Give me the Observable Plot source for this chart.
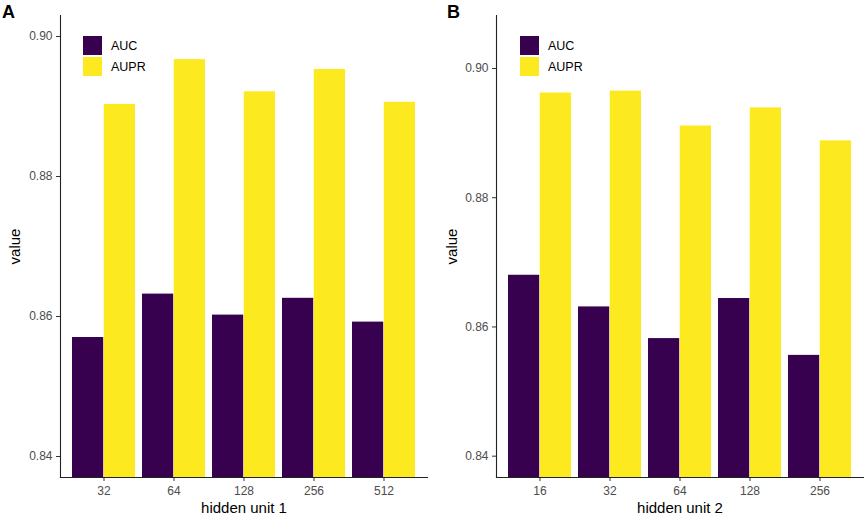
<!DOCTYPE html>
<html>
<head>
<meta charset="utf-8">
<script src="https://cdn.jsdelivr.net/npm/d3@7"></script>
<script src="https://cdn.jsdelivr.net/npm/@observablehq/plot@0.6"></script>
<style>
  html, body { margin: 0; padding: 0; background: #fff; }
  #wrap { position: relative; width: 865px; height: 516px; font-family: "Liberation Sans", Arial, sans-serif; }
  .panel { position: absolute; top: 0; }
  .tag { position: absolute; font-weight: bold; font-size: 18px; line-height: 1; }
  .key { position: absolute; width: 19px; height: 19px; }
  .klab { position: absolute; font-size: 12.5px; line-height: 1; color: #000; }
</style>
</head>
<body>
<div id="wrap"></div>
<script>
// ---- data ----
const series = ["AUC", "AUPR"];
const seriesColors = ["#38014f", "#fde920"];

const units1 = ["32", "64", "128", "256", "512"];
const auc1   = [0.8570, 0.8632, 0.8602, 0.8626, 0.8592];
const aupr1  = [0.8903, 0.8967, 0.8921, 0.8953, 0.8906];

const units2 = ["16", "32", "64", "128", "256"];
const auc2   = [0.8680, 0.8631, 0.8582, 0.8644, 0.8556];
const aupr2  = [0.8962, 0.8965, 0.8911, 0.8939, 0.8888];

const yTicks = [0.84, 0.86, 0.88, 0.90];

// ---- panel builder ----
function panel({units, auc, aupr, xLabel, yDomain, left, width, marginLeft, marginRight, yLabelDx}) {
  const wrap = document.getElementById("wrap");
  const height = 516, marginTop = 15, marginBottom = 39;
  const rows = [];
  units.forEach((u, i) => {
    rows.push({unit: u, series: "AUC", value: auc[i]});
    rows.push({unit: u, series: "AUPR", value: aupr[i]});
  });
  const pInner = 0.1, pOuter = 0.15;
  const plotW = width - marginLeft - marginRight;
  const step = plotW / (units.length - pInner + 2 * pOuter);
  const half = step * (1 - pInner) / 2;
  const ymin = yDomain[0];

  const chart = Plot.plot({
    width, height, marginLeft, marginRight, marginTop, marginBottom,
    style: {fontFamily: '"Liberation Sans", Arial, sans-serif', background: "#fff", overflow: "visible"},
    x: {type: "band", domain: units, paddingInner: pInner, paddingOuter: pOuter, label: null},
    y: {domain: yDomain, label: null},
    color: {domain: series, range: seriesColors},
    marks: [
      Plot.barY(rows.filter(d => d.series === "AUC"), {x: "unit", y1: () => ymin, y2: "value", fill: "series", insetRight: half}),
      Plot.barY(rows.filter(d => d.series === "AUPR"), {x: "unit", y1: () => ymin, y2: "value", fill: "series", insetLeft: half}),
      Plot.axisY({ticks: yTicks, tickFormat: d3.format(".2f"), tickSize: 4, tickPadding: 4, fontSize: 12, fill: "#4d4d4d", stroke: "#333", label: null}),
      Plot.axisX({tickSize: 4, tickPadding: 5, fontSize: 12, fill: "#4d4d4d", stroke: "#333", label: null}),
      Plot.frame({anchor: "left", stroke: "#222", strokeWidth: 1.1}),
      Plot.frame({anchor: "bottom", stroke: "#222", strokeWidth: 1.1}),
      Plot.text([xLabel], {frameAnchor: "bottom", lineAnchor: "middle", textAnchor: "middle", dy: 31, fontSize: 15, fill: "#000"}),
      Plot.text(["value"], {frameAnchor: "left", lineAnchor: "middle", textAnchor: "middle", dx: yLabelDx, rotate: -90, fontSize: 15, fill: "#000"})
    ]
  });
  const holder = document.createElement("div");
  holder.className = "panel";
  holder.style.left = left + "px";
  holder.appendChild(chart);
  wrap.appendChild(holder);
}

function addTag(text, x) {
  const t = document.createElement("div");
  t.className = "tag";
  t.textContent = text;
  t.style.left = x + "px";
  t.style.top = "3px";
  document.getElementById("wrap").appendChild(t);
}

function addLegend(x) {
  const wrap = document.getElementById("wrap");
  series.forEach((s, i) => {
    const k = document.createElement("div");
    k.className = "key";
    k.style.left = x + "px";
    k.style.top = (36 + i * 21) + "px";
    k.style.background = seriesColors[i];
    wrap.appendChild(k);
    const l = document.createElement("div");
    l.className = "klab";
    l.textContent = s;
    l.style.left = (x + 28) + "px";
    l.style.top = (40 + i * 21) + "px";
    wrap.appendChild(l);
  });
}

panel({units: units1, auc: auc1, aupr: aupr1, xLabel: "hidden unit 1",
  yDomain: [0.837, 0.903], left: 0, width: 430, marginLeft: 60, marginRight: 3, yLabelDx: -45});
panel({units: units2, auc: auc2, aupr: aupr2, xLabel: "hidden unit 2",
  yDomain: [0.8367, 0.9082], left: 430, width: 435, marginLeft: 66, marginRight: 2, yLabelDx: -44});

addTag("A", 2);
addTag("B", 447);
addLegend(83);
addLegend(520);
</script>
</body>
</html>
